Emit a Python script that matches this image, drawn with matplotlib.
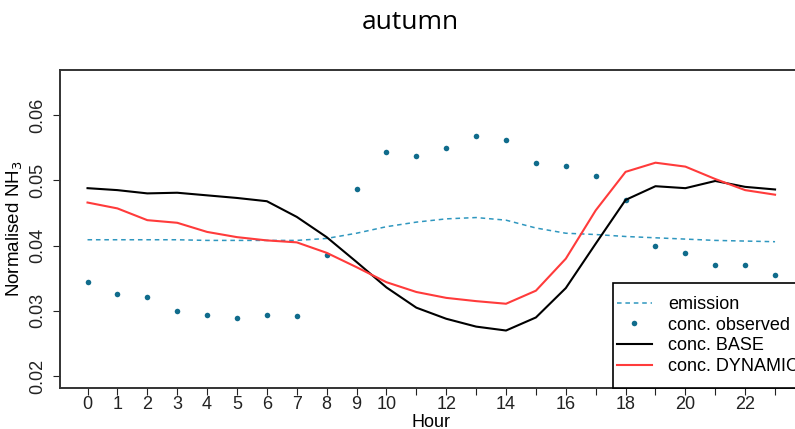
import numpy as np
import matplotlib.pyplot as plt
from matplotlib.patches import Rectangle

plt.rcParams['font.family'] = ['Liberation Sans', 'DejaVu Sans']

# diurnal profiles (normalised NH3) per hour of day
hours = list(range(24))
emission = [0.0409, 0.0409, 0.0409, 0.0409, 0.0408, 0.0408, 0.0408, 0.0408,
            0.0411, 0.0419, 0.0429, 0.0436, 0.0441, 0.0443, 0.0439, 0.0427,
            0.0419, 0.0417, 0.0414, 0.0412, 0.0410, 0.0408, 0.0407, 0.0406]
observed = [0.0345, 0.0326, 0.0321, 0.0300, 0.0294, 0.0289, 0.0294, 0.0293,
            0.0385, 0.0487, 0.0543, 0.0538, 0.0550, 0.0568, 0.0562, 0.0526,
            0.0522, 0.0506, 0.0470, 0.0400, 0.0389, 0.0371, 0.0371, 0.0355]
base = [0.0488, 0.0485, 0.0480, 0.0481, 0.0477, 0.0473, 0.0468, 0.0444,
        0.0413, 0.0375, 0.0336, 0.0305, 0.0288, 0.0276, 0.0270, 0.0290,
        0.0335, 0.0403, 0.0470, 0.0491, 0.0488, 0.0499, 0.0490, 0.0486]
dynamic = [0.0466, 0.0457, 0.0439, 0.0435, 0.0421, 0.0413, 0.0408, 0.0405,
           0.0389, 0.0367, 0.0344, 0.0329, 0.0320, 0.0315, 0.0311, 0.0331,
           0.0380, 0.0454, 0.0513, 0.0527, 0.0521, 0.0502, 0.0485, 0.0478]

hour_labels = [str(h) if (h <= 10 or h % 2 == 0) else '' for h in hours]
y_ticks = [0.02, 0.03, 0.04, 0.05, 0.06]

fig = plt.figure(figsize=(7.95, 4.29), dpi=100)
ax = fig.add_axes([0.0755, 0.0956, 0.934, 0.7413])

ax.plot(hours, emission, color='#2f97bf', lw=1.1, ls=(0, (3, 2.5)), label='emission')
ax.plot(hours, observed, ls='none', marker='o', ms=4, color='#106c8c', mec='none',
        label='conc. observed')
ax.plot(hours, base, color='black', lw=1.5, label='conc. BASE')
ax.plot(hours, dynamic, color='#ff3b3b', lw=1.5, label='conc. DYNAMIC')

ax.set_xlim(-0.92, 23.92)
ax.set_ylim(0.0182, 0.0669)
ax.set_xticks(hours)
ax.set_xticklabels(hour_labels)
ax.set_yticks(y_ticks)
ax.set_yticklabels([f'{v:.2f}' for v in y_ticks], rotation=90, va='center')
ax.tick_params(axis='both', labelsize=13, colors='#222222', length=5, width=0.8)
ax.tick_params(axis='x', pad=1)
ax.tick_params(axis='y', pad=5)
for s in ax.spines.values():
    s.set_linewidth(1.4)
    s.set_color('#333333')

ax.set_xlabel('Hour', fontsize=13, labelpad=0.5)
ax.set_ylabel('Normalised NH$_3$', fontsize=13.5, labelpad=3)

# legend box in the bottom-right corner, R style (frame drawn separately)
box = Rectangle((0.745, 0.0), 0.3, 0.33, transform=ax.transAxes, fill=True,
                facecolor='white', edgecolor='black', lw=1.2, zorder=4, clip_on=False)
ax.add_patch(box)
leg = ax.legend(loc='center left', bbox_to_anchor=(0.745, 0.165), borderaxespad=0,
                frameon=False, fontsize=13, handlelength=1.95, handletextpad=0.9,
                labelspacing=0.2, borderpad=0.2, markerscale=1.0)
leg.set_zorder(5)

fig.text(0.516, 0.948, 'autumn', ha='center', va='center', fontsize=19,
         family=['Open Sans', 'DejaVu Sans'])

fig.savefig('out.png', dpi=100)
